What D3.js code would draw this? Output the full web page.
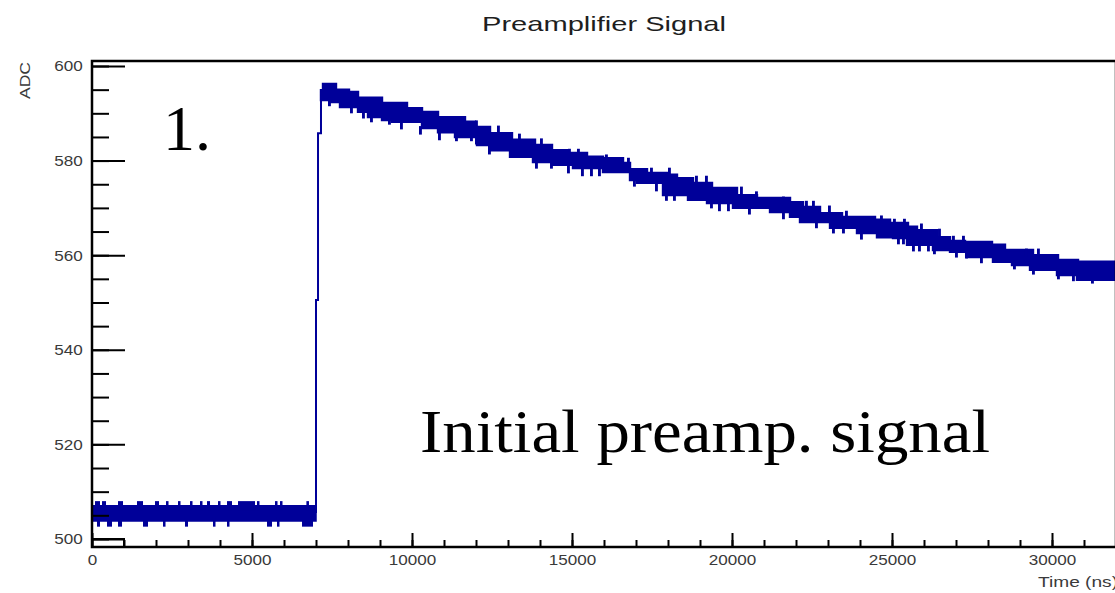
<!DOCTYPE html>
<html>
<head>
<meta charset="utf-8">
<script src="https://cdn.jsdelivr.net/npm/d3@7"></script>
<style>
  body { margin: 0; background: #fff; }
  svg { display: block; }
</style>
</head>
<body>
<svg></svg>
<script>
// axis ticks
const xMajorTicks = [0, 5000, 10000, 15000, 20000, 25000, 30000]
const xMinorTicks = d3.range(0, 32001, 1000)
const yMajorTicks = [500, 520, 540, 560, 580, 600]
const yMinorTicks = d3.range(500, 601, 5)

// baseline before the pulse (band edges + noise spikes, [start, end] in ns)
const baseTime = [0, 7000]
const baseTop = [507.0, 507.0]
const baseBottom = [503.8, 503.8]
const baseUpSpikes = [[94, 250], [313, 438], [813, 969], [1406, 1594], [1969, 2094], [2313, 2375],
  [2688, 2750], [3063, 3125], [3375, 3438], [3594, 3688], [3938, 4000], [4219, 4375],
  [4563, 5094], [5156, 5188], [5719, 5781], [5875, 5938], [6700, 6780]]
const baseUpValue = 508.0
const baseDownSpikes = [[156, 250], [469, 625], [813, 938], [1594, 1750], [2219, 2281], [2906, 3000],
  [3781, 3844], [4219, 4250], [5469, 5625], [5781, 5844], [6563, 6906]]
const baseDownValue = 502.6

// leading edge of the pulse
const riseTime = [7000, 7063, 7156]
const riseValue = [505.5, 550.5, 585.8]

// decaying tail: upper and lower edges of the noisy band
const upperTime = [7156, 7219, 7625, 8031, 8313, 9063, 9844, 10313, 10813, 11656, 11969, 12438, 13125,
  13844, 14375, 14844, 15469, 15969, 16594, 16813, 17344, 17969, 18281, 18781, 19375, 20156, 20781,
  21813, 22219, 22750, 23438, 24469, 24938, 25500, 25781, 26406, 26813, 27281, 28125, 28531, 29406,
  30188, 30813]
const upperValue = [594.9, 596.2, 595.0, 594.5, 593.3, 592.2, 591.1, 590.3, 589.2, 588.2, 587.1, 585.8,
  584.4, 583.3, 582.2, 581.6, 580.8, 580.5, 579.5, 578.2, 577.4, 577.0, 576.3, 575.3, 574.2, 572.7,
  572.1, 571.2, 570.2, 568.9, 568.1, 567.5, 566.8, 566.0, 565.3, 563.8, 563.0, 562.8, 562.2, 561.1,
  560.0, 559.0, 558.6]
const lowerTime = [7156, 7438, 7750, 8313, 8625, 9063, 9375, 10313, 10813, 11344, 12031, 12438, 13063,
  13781, 14375, 15031, 15969, 16813, 17031, 17844, 18625, 19219, 20031, 21188, 21813, 22125, 23063,
  23906, 24531, 25031, 25469, 26281, 26813, 27344, 28156, 28750, 29313, 30156, 30781]
const lowerValue = [592.8, 592.4, 591.3, 590.3, 589.2, 588.6, 588.2, 586.9, 586.0, 585.0, 583.3, 582.2,
  580.8, 579.7, 579.1, 578.4, 577.6, 575.9, 575.3, 572.7, 571.7, 571.0, 570.0, 569.1, 568.1, 567.0,
  565.8, 564.7, 563.8, 563.6, 562.2, 561.1, 560.7, 559.6, 558.6, 557.9, 556.9, 555.8, 554.8]

// single-bin noise spikes sticking out of the tail band
const upSpikeTime = [11969, 12656, 13313, 14000, 14875, 15156, 16031, 16719, 17438, 18000, 18844, 19156,
  20250, 20719, 21563, 22281, 22500, 23000, 23531, 24625, 25031, 25344, 25875, 26438, 26875, 27188,
  29156, 29531]
const upSpikeValue = [588.2, 587.1, 585.4, 584.4, 582.2, 582.2, 581.0, 580.3, 578.2, 578.2, 576.5, 576.5,
  574.2, 573.2, 572.1, 571.2, 571.2, 570.2, 569.1, 568.1, 567.4, 567.4, 566.4, 565.3, 563.8, 563.8,
  561.1, 561.1]
const downSpikeTime = [7375, 7719, 8063, 8438, 8688, 9250, 9625, 10219, 10813, 11344, 11813, 11969, 12375,
  13844, 14313, 14844, 15281, 15563, 15813, 16906, 17594, 17906, 18156, 19313, 19563, 19844, 20500,
  21563, 22594, 23125, 23438, 24000, 25156, 25313, 25625, 25813, 26094, 26281, 26969, 27281, 27750,
  28781, 29375, 30156, 30625, 31219]
const downSpikeValue = [591.8, 591.8, 590.3, 589.2, 588.4, 587.9, 586.9, 585.8, 584.6, 584.4, 584.4, 583.7,
  581.6, 578.6, 578.6, 577.6, 577.0, 577.0, 577.0, 574.8, 573.8, 571.8, 571.8, 570.2, 569.6, 569.6,
  568.9, 567.9, 566.0, 564.9, 564.9, 563.6, 562.6, 562.6, 561.1, 561.1, 561.1, 560.5, 559.8, 559.6,
  558.6, 557.3, 556.2, 555.2, 554.8, 554.3]

// small black step in the first bin range
const refTime = [0, 1000]
const refValue = [500, 500]

const blue = "#000099"
const axisFont = "'Liberation Sans', Arial, Helvetica, sans-serif"
const serif = "'Liberation Serif', 'Times New Roman', serif"

let svg = d3.select("svg")
    .attr("width", 1115)
    .attr("height", 593)

let x = d3.scaleLinear().domain([0, 32000]).range([92, 1116])
let y = d3.scaleLinear().domain([498.3, 601.06]).range([547, 61])

// clip for the data
svg.append("clipPath").attr("id", "plot")
    .append("rect")
    .attr("x", x(0)).attr("y", y(601.06))
    .attr("width", x(32000) - x(0)).attr("height", y(498.3) - y(601.06))

let g = svg.append("g").attr("clip-path", "url(#plot)")

// baseline band
g.append("path")
    .datum(baseTime.map((t, i) => ({ t: t, top: baseTop[i], bot: baseBottom[i] })))
    .attr("fill", blue)
    .attr("stroke", blue)
    .attr("stroke-width", 1.5)
    .attr("d", d3.area().x(d => x(d.t)).y0(d => y(d.bot)).y1(d => y(d.top)))

g.selectAll(".bup").data(baseUpSpikes).join("rect")
    .attr("fill", blue)
    .attr("x", d => x(d[0]))
    .attr("width", d => Math.max(2.5, x(d[1]) - x(d[0])))
    .attr("y", y(baseUpValue))
    .attr("height", y(baseTop[0] - 1) - y(baseUpValue))

g.selectAll(".bdn").data(baseDownSpikes).join("rect")
    .attr("fill", blue)
    .attr("x", d => x(d[0]))
    .attr("width", d => Math.max(2.5, x(d[1]) - x(d[0])))
    .attr("y", y(baseBottom[0] + 1))
    .attr("height", y(baseDownValue) - y(baseBottom[0] + 1))

// leading edge as a step line
let rise = riseTime.map((t, i) => [t, riseValue[i]])
rise.push([upperTime[0], upperValue[0]])
g.append("path")
    .datum(rise)
    .attr("fill", "none")
    .attr("stroke", blue)
    .attr("stroke-width", 2)
    .attr("d", d3.line().x(d => x(d[0])).y(d => y(d[1])).curve(d3.curveStepBefore))

// decaying tail band: merge breakpoints of both edges
function stepAt(times, values, t) {
    let i = d3.bisectRight(times, t) - 1
    return values[Math.max(0, i)]
}
let tailTimes = Array.from(new Set(upperTime.concat(lowerTime, [32000]))).sort((a, b) => a - b)
let tail = tailTimes.map(t => ({
    t: t,
    top: stepAt(upperTime, upperValue, t),
    bot: stepAt(lowerTime, lowerValue, t)
}))
g.append("path")
    .datum(tail)
    .attr("fill", blue)
    .attr("stroke", blue)
    .attr("stroke-width", 2.4)
    .attr("stroke-linejoin", "miter")
    .attr("d", d3.area().x(d => x(d.t)).y0(d => y(d.bot)).y1(d => y(d.top)).curve(d3.curveStepAfter))

const spikeWidth = 90
g.selectAll(".up").data(upSpikeTime).join("rect")
    .attr("fill", blue)
    .attr("x", t => x(t))
    .attr("width", x(spikeWidth) - x(0))
    .attr("y", (t, i) => y(upSpikeValue[i] + 0.3))
    .attr("height", (t, i) => y(upSpikeValue[i] - 1.5) - y(upSpikeValue[i] + 0.3))

g.selectAll(".dn").data(downSpikeTime).join("rect")
    .attr("fill", blue)
    .attr("x", t => x(t))
    .attr("width", x(spikeWidth) - x(0))
    .attr("y", (t, i) => y(downSpikeValue[i] + 1.5))
    .attr("height", (t, i) => y(downSpikeValue[i] - 0.3) - y(downSpikeValue[i] + 1.5))

// small black step
g.append("path")
    .datum(refTime.map((t, i) => [t, refValue[i]]).concat([[refTime[1], 498.3]]))
    .attr("fill", "none")
    .attr("stroke", "#000")
    .attr("stroke-width", 2)
    .attr("d", d3.line().x(d => x(d[0])).y(d => y(d[1])))

// axes (ticks point into the frame)
function styleAxis(sel) {
    sel.select(".domain").remove()
    sel.selectAll(".tick line").attr("stroke", "#000").attr("stroke-width", 2)
    sel.selectAll(".tick text")
        .attr("fill", "#3a3a3a")
        .style("font-family", axisFont)
        .style("font-size", "15px")
}

svg.append("g")
    .attr("transform", `translate(0, ${y.range()[0]})`)
    .call(d3.axisBottom(x).tickValues(xMinorTicks).tickSize(-7).tickFormat(""))
    .call(styleAxis)

svg.append("g")
    .attr("transform", `translate(0, ${y.range()[0]})`)
    .call(d3.axisBottom(x).tickValues(xMajorTicks).tickSize(-14).tickPadding(6).tickFormat(d3.format("d")))
    .call(styleAxis)
    .call(a => a.selectAll(".tick text").attr("y", 7).attr("transform", "scale(1.14,1)"))

svg.append("g")
    .attr("transform", `translate(${x.range()[0]}, 0)`)
    .call(d3.axisLeft(y).tickValues(yMinorTicks).tickSize(-17).tickFormat(""))
    .call(styleAxis)

svg.append("g")
    .attr("transform", `translate(${x.range()[0]}, 0)`)
    .call(d3.axisLeft(y).tickValues(yMajorTicks).tickSize(-33).tickPadding(8).tickFormat(d3.format("d")))
    .call(styleAxis)
    .call(a => a.selectAll(".tick text").attr("transform", "scale(1.14,1)"))

// frame
svg.append("rect")
    .attr("x", x.range()[0]).attr("y", y.range()[1])
    .attr("width", x.range()[1] - x.range()[0])
    .attr("height", y.range()[0] - y.range()[1])
    .attr("fill", "none")
    .attr("stroke", "#000")
    .attr("stroke-width", 2.5)

// titles
svg.append("text")
    .text("Preamplifier Signal")
    .attr("x", 482).attr("y", 31)
    .attr("textLength", 244)
    .attr("lengthAdjust", "spacingAndGlyphs")
    .attr("fill", "#1e1e1e")
    .style("font-family", axisFont)
    .style("font-size", "21px")

svg.append("text")
    .text("ADC")
    .attr("transform", "translate(30, 62) rotate(-90)")
    .attr("text-anchor", "end")
    .attr("textLength", 37)
    .attr("lengthAdjust", "spacingAndGlyphs")
    .attr("fill", "#3a3a3a")
    .style("font-family", axisFont)
    .style("font-size", "15px")

svg.append("text")
    .text("Time (ns)")
    .attr("x", 1038).attr("y", 587)
    .attr("textLength", 80)
    .attr("lengthAdjust", "spacingAndGlyphs")
    .attr("fill", "#3a3a3a")
    .style("font-family", axisFont)
    .style("font-size", "15px")

// annotations
svg.append("text")
    .text("1.")
    .attr("x", 163).attr("y", 150)
    .attr("fill", "#000")
    .style("font-family", serif)
    .style("font-size", "64px")

svg.append("text")
    .text("Initial preamp. signal")
    .attr("x", 420).attr("y", 452)
    .attr("textLength", 570)
    .attr("lengthAdjust", "spacingAndGlyphs")
    .attr("fill", "#000")
    .style("font-family", serif)
    .style("font-size", "62px")
</script>
</body>
</html>
